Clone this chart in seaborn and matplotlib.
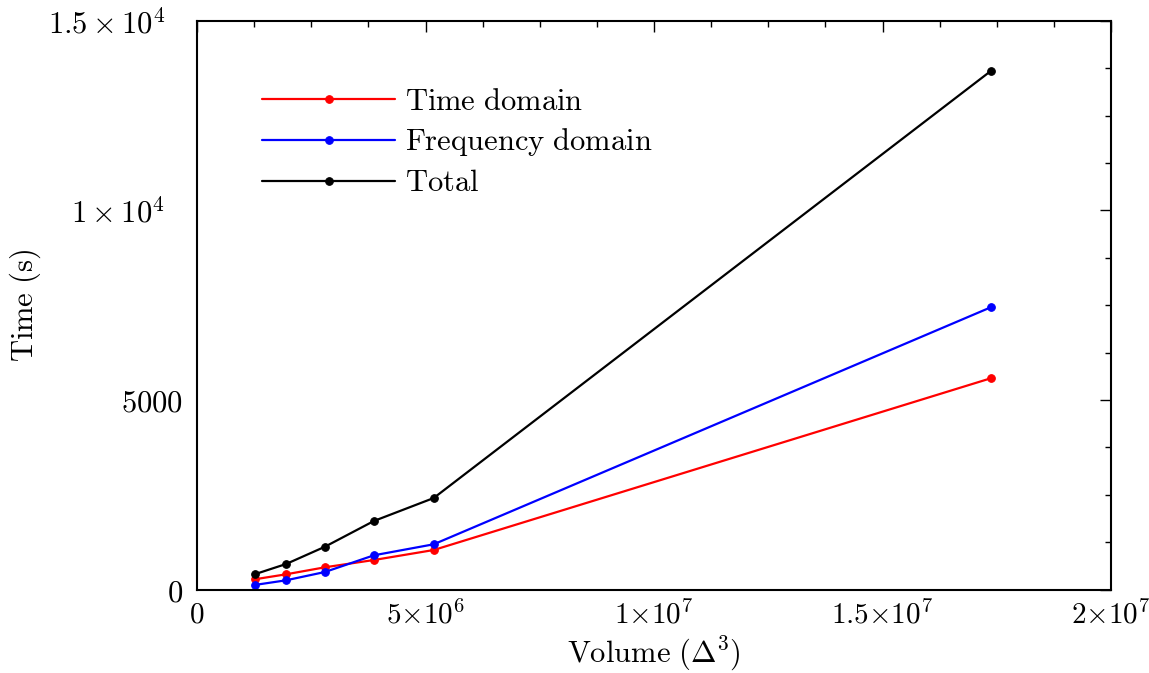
import matplotlib
matplotlib.use("Agg")
import matplotlib.pyplot as plt
import matplotlib.transforms as mtrans
import seaborn as sns
import pandas as pd
from matplotlib.ticker import MultipleLocator

sns.set_theme(style="white")
plt.rcParams["mathtext.fontset"] = "cm"
plt.rcParams["font.family"] = ["DejaVu Serif"]
for k in ["text.color", "axes.labelcolor", "xtick.color", "ytick.color", "axes.edgecolor"]:
    plt.rcParams[k] = "black"

volume = [1.26e6, 1.95e6, 2.80e6, 3.87e6, 5.18e6, 17.37e6]
time_domain = [269, 401, 586, 778, 1042, 5573]
freq_domain = [119, 243, 462, 902, 1193, 7446]
total = [401, 673, 1129, 1807, 2414, 13681]

series_names = [r"$\mathrm{Time\ domain}$", r"$\mathrm{Frequency\ domain}$", r"$\mathrm{Total}$"]
series_vals = [time_domain, freq_domain, total]
colors = ["#ff0000", "#0000ff", "#000000"]

xticks = [0, 5e6, 1e7, 1.5e7, 2e7]
xticklabels = [r"$0$", r"$5{\times}10^6$", r"$1{\times}10^7$", r"$1.5{\times}10^7$", r"$2{\times}10^7$"]
yticks = [0, 5000, 10000, 15000]
yticklabels = [r"$0$", r"$5000$", r"$1\times10^4$", r"$1.5\times10^4$"]

fig = plt.figure(figsize=(11.49, 6.73), dpi=100)
ax = fig.add_axes([197/1149, 1-589.5/673, (1111-197)/1149, (589.5-21)/673])

for name, vals, c in zip(series_names, series_vals, colors):
    df = pd.DataFrame({"Volume": volume, "Time": vals})
    sns.lineplot(data=df, x="Volume", y="Time", ax=ax, color=c, lw=1.6,
                 marker="o", markersize=5.5, markeredgecolor=c, markerfacecolor=c,
                 label=name)

ax.set_xlim(0, 2e7)
ax.set_ylim(0, 15000)
ax.set_xticks(xticks)
ax.set_xticklabels(xticklabels)
ax.set_yticks(yticks)
ax.set_yticklabels(yticklabels)
ax.xaxis.set_minor_locator(MultipleLocator(1.25e6))
ax.yaxis.set_minor_locator(MultipleLocator(1250))
ax.tick_params(which="both", direction="in", top=True, right=True, width=1.0, colors="black")
ax.tick_params(which="major", length=8)
ax.tick_params(axis="y", which="major", pad=10, labelsize=22)
ax.tick_params(axis="x", which="major", pad=8, labelsize=21)
ax.tick_params(which="minor", length=4)
for s in ax.spines.values():
    s.set_linewidth(1.5)
    s.set_color("black")

# exponent labels sit a bit further left in the reference
shift = mtrans.ScaledTranslation(-18/100, 0, fig.dpi_scale_trans)
for lbl in ax.get_yticklabels()[2:]:
    lbl.set_transform(lbl.get_transform() + shift)

ax.set_xlabel(r"$\mathrm{Volume\ (\Delta^3)}$", fontsize=22, labelpad=3)
ax.set_ylabel(r"$\mathrm{Time\ (s)}$", fontsize=22)
ax.yaxis.set_label_coords(-0.168, 0.5)

leg = ax.legend(loc="upper left", bbox_to_anchor=(0.058, 0.907), frameon=False,
                fontsize=22, handlelength=4.35, handletextpad=0.33, labelspacing=0.3,
                numpoints=1, markerscale=1.0, borderaxespad=0)

fig.savefig("out.png", dpi=100)
